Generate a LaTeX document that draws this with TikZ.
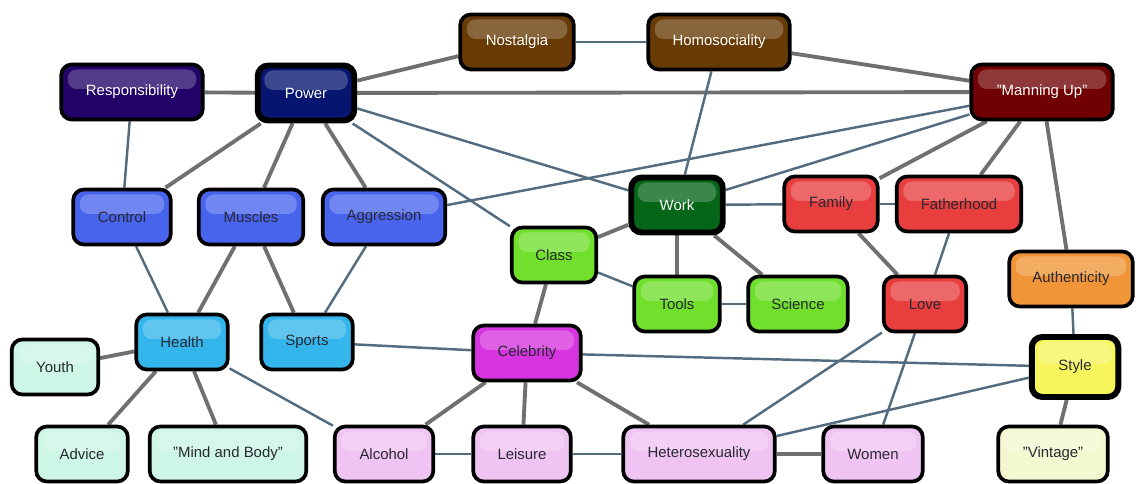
\documentclass[tikz,border=0pt]{standalone}
\usepackage{fontspec}
\setmainfont{Liberation Sans}
\usepackage{tikz}
\usetikzlibrary{calc, backgrounds}

\definecolor{cResp}{RGB}{34,4,104}
\definecolor{cPower}{RGB}{6,22,112}
\definecolor{cBrown}{RGB}{104,58,6}
\definecolor{cManning}{RGB}{112,0,2}
\definecolor{cBlue}{RGB}{72,100,236}
\definecolor{cWork}{RGB}{4,102,22}
\definecolor{cGreen}{RGB}{112,224,44}
\definecolor{cRed}{RGB}{232,62,62}
\definecolor{cOrange}{RGB}{240,150,56}
\definecolor{cYellow}{RGB}{246,246,92}
\definecolor{cVintage}{RGB}{244,248,208}
\definecolor{cSky}{RGB}{52,182,236}
\definecolor{cMint}{RGB}{206,246,230}
\definecolor{cMagenta}{RGB}{214,52,222}
\definecolor{cLilac}{RGB}{240,196,242}
\definecolor{txtDark}{RGB}{40,40,50}
\definecolor{lnGray}{RGB}{112,112,112}
\definecolor{lnSlate}{RGB}{84,108,128}

\begin{document}
\begin{tikzpicture}[
    concept/.style={draw=black, line width=2.1pt, rounded corners=6pt,
        fill=#1, minimum height=1.1cm, inner sep=2pt, text=txtDark,
        font=\fontsize{8.5}{10}\selectfont,
        path picture={\fill[white, opacity=0.22, rounded corners=5pt]
            ($(path picture bounding box.north west)+(0.13,-0.1)$) rectangle
            ($(path picture bounding box.east)+(-0.13,0.06)$);}},
    dark/.style={text=white},
    hub/.style={line width=3.4pt},
    strong/.style={line width=2.2pt, lnGray},
    weak/.style={line width=1.4pt, lnSlate}
]

\useasboundingbox (0,0) rectangle (22.72,-9.68);

% top row
\node[concept=cResp, dark, minimum width=2.83cm] (resp) at (2.64,-1.84) {Responsibility};
\node[concept=cPower, dark, hub, minimum width=1.93cm] (power) at (6.12,-1.86) {Power};
\node[concept=cBrown, dark, minimum width=2.27cm] (nostalgia) at (10.34,-0.84) {Nostalgia};
\node[concept=cBrown, dark, minimum width=2.83cm] (homo) at (14.38,-0.84) {Homosociality};
\node[concept=cManning, dark, minimum width=2.83cm] (manning) at (20.84,-1.84) {\symbol{34}Manning Up\symbol{34}};

% middle rows
\node[concept=cBlue, minimum width=1.95cm] (control) at (2.44,-4.34) {Control};
\node[concept=cBlue, minimum width=2.09cm] (muscles) at (5.02,-4.34) {Muscles};
\node[concept=cBlue, minimum width=2.45cm] (aggression) at (7.68,-4.34) {Aggression};
\node[concept=cGreen, minimum width=1.69cm] (class) at (11.08,-5.1) {Class};
\node[concept=cWork, dark, hub, minimum width=1.83cm] (work) at (13.54,-4.1) {Work};
\node[concept=cRed, minimum width=1.87cm] (family) at (16.62,-4.08) {Family};
\node[concept=cRed, minimum width=2.49cm] (fatherhood) at (19.18,-4.08) {Fatherhood};
\node[concept=cGreen, minimum width=1.71cm] (tools) at (13.54,-6.08) {Tools};
\node[concept=cGreen, minimum width=1.99cm] (science) at (15.96,-6.08) {Science};
\node[concept=cRed, minimum width=1.65cm] (love) at (18.5,-6.08) {Love};
\node[concept=cOrange, minimum width=2.47cm] (authenticity) at (21.42,-5.58) {Authenticity};
\node[concept=cYellow, hub, minimum width=1.73cm, minimum height=1.2cm] (style) at (21.5,-7.34) {Style};
\node[concept=cSky, minimum width=1.83cm] (health) at (3.64,-6.84) {Health};
\node[concept=cSky, minimum width=1.83cm] (sports) at (6.14,-6.84) {Sports};
\node[concept=cMagenta, minimum width=2.15cm] (celebrity) at (10.54,-7.06) {Celebrity};
\node[concept=cMint, minimum width=1.73cm] (youth) at (1.1,-7.34) {Youth};

% bottom row
\node[concept=cMint, minimum width=1.83cm] (advice) at (1.64,-9.08) {Advice};
\node[concept=cMint, minimum width=3.13cm] (mind) at (4.56,-9.08) {\symbol{34}Mind and Body\symbol{34}};
\node[concept=cLilac, minimum width=1.97cm] (alcohol) at (7.68,-9.08) {Alcohol};
\node[concept=cLilac, minimum width=1.95cm] (leisure) at (10.44,-9.08) {Leisure};
\node[concept=cLilac, minimum width=3.03cm] (hetero) at (13.98,-9.08) {Heterosexuality};
\node[concept=cLilac, minimum width=1.99cm] (women) at (17.46,-9.08) {Women};
\node[concept=cVintage, minimum width=2.19cm] (vintage) at (21.06,-9.08) {\symbol{34}Vintage\symbol{34}};

\begin{scope}[on background layer]
% heavy links
\draw[strong] (resp) -- (power);
\draw[strong] (power) -- (nostalgia);
\draw[strong] (power) -- (manning);
\draw[strong] (homo) -- (manning);
\draw[strong] (power) -- (control);
\draw[strong] (power) -- (muscles);
\draw[strong] (power) -- (aggression);
\draw[strong] (manning) -- (family);
\draw[strong] (manning) -- (fatherhood);
\draw[strong] (manning) -- (authenticity);
\draw[strong] (work) -- (class);
\draw[strong] (work) -- (tools);
\draw[strong] (work) -- (science);
\draw[strong] (class) -- (celebrity);
\draw[strong] (family) -- (love);
\draw[strong] (style) -- (vintage);
\draw[strong] (muscles) -- (health);
\draw[strong] (muscles) -- (sports);
\draw[strong] (health) -- (youth);
\draw[strong] (health) -- (advice);
\draw[strong] (health) -- (mind);
\draw[strong] (celebrity) -- (alcohol);
\draw[strong] (celebrity) -- (leisure);
\draw[strong] (celebrity) -- (hetero);
\draw[strong] (hetero) -- (women);

% light links
\draw[weak] (resp) -- (control);
\draw[weak] (nostalgia) -- (homo);
\draw[weak] (power) -- (work);
\draw[weak] (power) -- (class);
\draw[weak] (homo) -- (work);
\draw[weak] (aggression) -- (manning);
\draw[weak] (work) -- (manning);
\draw[weak] (work) -- (family);
\draw[weak] (family) -- (fatherhood);
\draw[weak] (class) -- (tools);
\draw[weak] (tools) -- (science);
\draw[weak] (fatherhood) -- (love);
\draw[weak] (authenticity) -- (style);
\draw[weak] (celebrity) -- (style);
\draw[weak] (sports) -- (celebrity);
\draw[weak] (hetero) -- (style);
\draw[weak] (hetero) -- (love);
\draw[weak] (love) -- (women);
\draw[weak] (alcohol) -- (leisure);
\draw[weak] (leisure) -- (hetero);
\draw[weak] (health) -- (alcohol);
\draw[weak] (control) -- (health);
\draw[weak] (aggression) -- (sports);
\end{scope}

\end{tikzpicture}
\end{document}
